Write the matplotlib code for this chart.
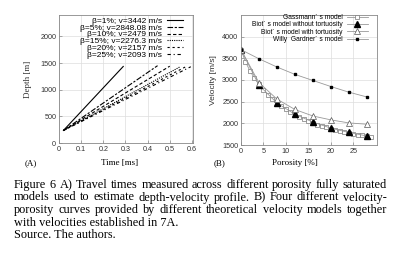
import matplotlib
matplotlib.use("Agg")
import matplotlib.pyplot as plt

# Panel A: travel time vs depth for different porosities
betas = ["β=1%; v=3442 m/s", "β=5%; v=2848.08 m/s", "β=10%; v=2479 m/s",
         "β=15%; v=2276.3 m/s", "β=20%; v=2157 m/s", "β=25%; v=2093 m/s"]
t_start = [0.02, 0.02, 0.02, 0.02, 0.02, 0.02]
t_end = [0.29, 0.445, 0.50, 0.545, 0.57, 0.595]
d_start = [235, 235, 235, 235, 235, 235]
d_end = [1435, 1450, 1440, 1425, 1425, 1430]

# Panel B: velocity vs porosity
por_gass = [0, 1, 2, 3, 4, 5, 6, 7, 8, 9, 10, 11, 12, 13, 14, 15, 16, 17, 18, 19,
            20, 21, 22, 23, 24, 25, 26, 27, 28, 29]
vel_gass = [3700, 3420, 3210, 3040, 2900, 2770, 2660, 2560, 2470, 2390, 2320, 2260,
            2200, 2150, 2100, 2050, 2010, 1970, 1940, 1910, 1880, 1850, 1820, 1800,
            1780, 1760, 1740, 1720, 1700, 1690]
por_biot = [0, 4, 8, 12, 16, 20, 24, 28]
vel_biot_no = [3700, 2880, 2470, 2210, 2030, 1890, 1790, 1710]
vel_biot_tort = [3700, 2940, 2560, 2320, 2170, 2080, 2010, 1980]
vel_willy = [3700, 3490, 3300, 3130, 2990, 2850, 2720, 2610]

caption_lines = [
    "Figure 6 A) Travel times measured across different porosity fully saturated",
    "models used to estimate depth-velocity profile. B) Four different velocity-",
    "porosity curves provided by different theoretical velocity models together",
    "with velocities established in 7A.",
    "Source. The authors.",
]

W, H = 394, 258
fig = plt.figure(figsize=(W / 100, H / 100), dpi=100)
sans = "Liberation Sans"
serif = "Liberation Serif"
tick_col = "#333333"

styles = ["-", (0, (5, 1.5, 2, 1.5)), (0, (3, 2)), (0, (1, 1)),
          (0, (2, 2.5)), (0, (3, 2.5, 1, 2.5))]

axA = fig.add_axes([59 / W, 1 - 143 / H, 134 / W, 128 / H])
for i in range(len(betas)):
    axA.plot([t_start[i], t_end[i]], [d_start[i], d_end[i]], color="black",
             lw=0.8, linestyle=styles[i], label=betas[i])
axA.set_xlim(0, 0.605)
axA.set_ylim(0, 2400)
axA.set_xticks([0, 0.1, 0.2, 0.3, 0.4, 0.5, 0.6])
axA.set_xticklabels(["0", "0.1", "0.2", "0.3", "0.4", "0.5", "0.6"])
axA.set_yticks([0, 500, 1000, 1500, 2000])
axA.legend(loc="upper right", bbox_to_anchor=(183 / W, 1 - 17 / H),
           bbox_transform=fig.transFigure, frameon=False, markerfirst=False,
           prop={"family": sans, "size": 6.0}, handlelength=1.95,
           labelspacing=-0.12, borderaxespad=0, borderpad=0, handletextpad=0.6)

axB = fig.add_axes([241 / W, 1 - 145 / H, 136 / W, 130 / H])
axB.plot(por_gass, vel_gass, color="#999999", lw=0.6, marker="s", ms=2.2,
         mfc="white", mec="#777777", mew=0.5, label="Gassmann´ s model")
axB.plot(por_biot, vel_biot_no, color="#999999", lw=0.6, marker="^", ms=4,
         mfc="black", mec="black", label="Biot´ s model without tortuosity")
axB.plot(por_biot, vel_biot_tort, color="#999999", lw=0.6, marker="^", ms=4,
         mfc="white", mec="#555555", mew=0.5, label="Biot´ s model with tortuosity")
axB.plot(por_biot, vel_willy, color="#999999", lw=0.6, marker="s", ms=1.8,
         mfc="black", mec="black", label="Willy  Gardner´ s model")
axB.set_xlim(0, 30.3)
axB.set_ylim(1500, 4500)
axB.set_xticks([0, 5, 10, 15, 20, 25])
axB.set_yticks([1500, 2000, 2500, 3000, 3500, 4000])
axB.legend(loc="upper right", bbox_to_anchor=(368 / W, 1 - 14 / H),
           bbox_transform=fig.transFigure, frameon=False, markerfirst=False,
           prop={"family": sans, "size": 4.8}, handlelength=3.2,
           labelspacing=0.05, borderaxespad=0, borderpad=0, handletextpad=0.6)

for ax in (axA, axB):
    ax.grid(True, color="#dddddd", lw=0.5)
    ax.set_axisbelow(True)
    for s in ax.spines.values():
        s.set_color("#888888")
        s.set_linewidth(0.6)
    ax.tick_params(length=2, width=0.5, color="#888888", pad=2,
                   labelsize=5.2, labelcolor=tick_col, direction="in")
    for lab in ax.get_xticklabels() + ax.get_yticklabels():
        lab.set_family(sans)

axA.set_ylabel("Depth [m]", family=serif, fontsize=6.5, color="#333333", labelpad=6)
axB.set_ylabel("Velocity [m/s]", family=sans, fontsize=6, color="#333333", labelpad=4)

fig.text(31 / W, 1 - 163 / H, "(A)", family=serif, fontsize=6.5, ha="center", va="center")
fig.text(120 / W, 1 - 163 / H, "Time [ms]", family=serif, fontsize=6.5, ha="center", va="center")
fig.text(220 / W, 1 - 163 / H, "(B)", family=serif, fontsize=6.5, ha="center", va="center")
fig.text(295 / W, 1 - 163 / H, "Porosity [%]", family=serif, fontsize=6.5, ha="center", va="center")

# Caption, justified like the source page
x0, x1 = 14, 387
baselines = [188, 200.5, 213, 225.5, 238]
cap_size = 8.8
renderer = fig.canvas.get_renderer()
for k, line in enumerate(caption_lines):
    yb = 1 - baselines[k] / H
    if k >= 3:
        fig.text(x0 / W, yb, line, family=serif, fontsize=cap_size, va="baseline")
        continue
    words = line.split(" ")
    objs = [fig.text(0, yb, w, family=serif, fontsize=cap_size, va="baseline") for w in words]
    widths = [o.get_window_extent(renderer).width for o in objs]
    gap = (x1 - x0 - sum(widths)) / (len(words) - 1)
    x = x0
    for o, w in zip(objs, widths):
        o.set_x(x / W)
        x += w + gap

fig.savefig("out.png", dpi=100)
